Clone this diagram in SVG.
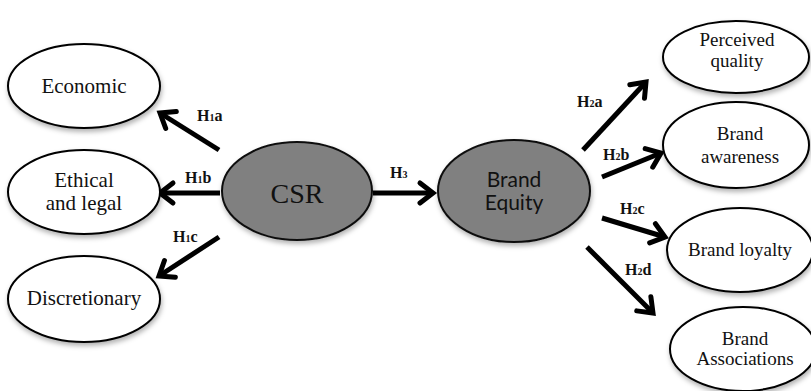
<svg xmlns="http://www.w3.org/2000/svg" width="811" height="391" viewBox="0 0 811 391">
<defs>
<filter id="sh" x="-20%" y="-20%" width="140%" height="150%">
<feDropShadow dx="1" dy="3" stdDeviation="2.5" flood-color="#000" flood-opacity="0.3"/>
</filter>
<marker id="ah" markerUnits="userSpaceOnUse" markerWidth="40" markerHeight="40" viewBox="-20 -20 40 40" refX="0" refY="0" orient="auto">
<path d="M-13,-10 L0,0 L-13,10" fill="none" stroke="#000" stroke-width="5" stroke-linecap="round" stroke-linejoin="miter"/>
</marker>
</defs>
<style>
.n{fill:#fff;stroke:#000;stroke-width:2;filter:url(#sh)}
.g{fill:#808080;stroke:#111;stroke-width:2;filter:url(#sh)}
.t{font-family:"Liberation Serif","Times New Roman",serif;text-anchor:middle;fill:#111}
.l{font-size:21px}
.r{font-size:19px}
.s{font-family:Lato,"Open Sans",sans-serif;font-size:21px;text-anchor:middle;fill:#111}
.c{stroke:#000;stroke-width:5;fill:none;marker-end:url(#ah)}
.h{font-family:"Liberation Serif","Times New Roman",serif;font-weight:bold;font-size:16px;fill:#111}
.sub{font-size:10px}
</style>
<rect width="811" height="391" fill="#fff"/>
<g id="connectors">
<line class="c" x1="219" y1="150" x2="160" y2="113"/>
<line class="c" x1="220" y1="193" x2="160" y2="193"/>
<line class="c" x1="219" y1="237" x2="159" y2="276"/>
<line class="c" x1="373" y1="193" x2="433" y2="193"/>
<line class="c" x1="583" y1="150" x2="646" y2="82"/>
<line class="c" x1="602" y1="177" x2="661" y2="153"/>
<line class="c" x1="602" y1="218" x2="665" y2="237"/>
<line class="c" x1="587" y1="247" x2="653" y2="313"/>
<text class="h" x="197" y="121">H<tspan class="sub">1</tspan>a</text>
<text class="h" x="185" y="183">H<tspan class="sub">1</tspan>b</text>
<text class="h" x="173" y="242">H<tspan class="sub">1</tspan>c</text>
<text class="h" x="390" y="178">H<tspan class="sub">3</tspan></text>
<text class="h" x="577" y="107">H<tspan class="sub">2</tspan>a</text>
<text class="h" x="603" y="160">H<tspan class="sub">2</tspan>b</text>
<text class="h" x="620" y="214">H<tspan class="sub">2</tspan>c</text>
<text class="h" x="625" y="275">H<tspan class="sub">2</tspan>d</text>
</g>
<g id="economic"><ellipse class="n" cx="84" cy="86" rx="76" ry="42"/><text class="t l" x="84" y="93">Economic</text></g>
<g id="ethical"><ellipse class="n" cx="84" cy="192" rx="76" ry="42"/><text class="t l" x="84" y="187">Ethical</text><text class="t l" x="84" y="210">and legal</text></g>
<g id="discretionary"><ellipse class="n" cx="84" cy="299" rx="76" ry="43"/><text class="t l" x="84" y="305">Discretionary</text></g>
<g id="csr"><ellipse class="g" cx="297" cy="191" rx="75" ry="49"/><text class="t" x="297" y="203" font-size="28">CSR</text></g>
<g id="brand-equity"><ellipse class="g" cx="514" cy="191" rx="76" ry="51"/><text class="s" x="514" y="187">Brand</text><text class="s" x="514" y="210">Equity</text></g>
<g id="perceived-quality"><ellipse class="n" cx="736" cy="57" rx="73" ry="36"/><text class="t r" x="737" y="46">Perceived</text><text class="t r" x="737" y="67">quality</text></g>
<g id="brand-awareness"><ellipse class="n" cx="736" cy="145" rx="73" ry="43"/><text class="t r" x="740" y="140">Brand</text><text class="t r" x="740" y="163">awareness</text></g>
<g id="brand-loyalty"><ellipse class="n" cx="740" cy="250" rx="73" ry="42"/><text class="t r" x="740" y="256">Brand loyalty</text></g>
<g id="brand-associations"><ellipse class="n" cx="743" cy="349" rx="73" ry="42"/><text class="t r" x="745" y="345">Brand</text><text class="t r" x="745" y="365">Associations</text></g>
</svg>
